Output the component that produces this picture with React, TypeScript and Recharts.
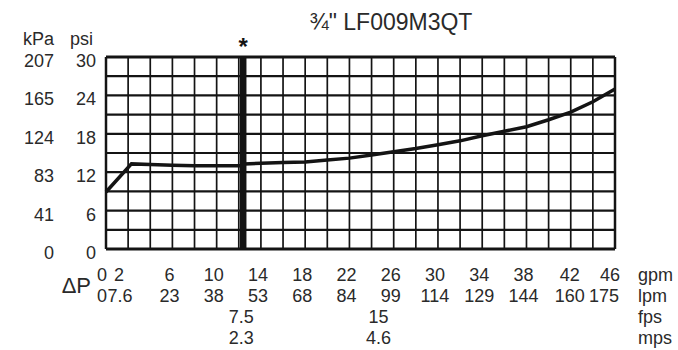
import {
  LineChart,
  Line,
  XAxis,
  YAxis,
  CartesianGrid,
  ReferenceLine,
} from "recharts";

// flow (gpm) vs pressure loss (psi)
const flowGpm = [0, 2.3, 4, 6, 8, 10, 12.4, 12.5, 14, 16, 18, 20, 22, 24, 26, 28, 30, 32, 34, 36, 38, 40, 42, 44, 46];
const pressurePsi = [8.9, 13.3, 13.2, 13.1, 13.0, 13.0, 13.0, 13.3, 13.4, 13.5, 13.6, 13.9, 14.2, 14.7, 15.2, 15.7, 16.3, 16.9, 17.7, 18.4, 19.1, 20.2, 21.4, 23.0, 25.0];

const gpmTicks = [0, 2, 6, 10, 14, 18, 22, 26, 30, 34, 38, 42, 46];
const lpmTicks = ["0", "7.6", "23", "38", "53", "68", "84", "99", "114", "129", "144", "160", "175"];
const psiTicks = [0, 6, 12, 18, 24, 30];
const kpaTicks = ["0", "41", "83", "124", "165", "207"];
const velocityGpm = [12.4, 24.8];
const fpsLabels = ["7.5", "15"];
const mpsLabels = ["2.3", "4.6"];
const unitLabels = ["gpm", "lpm", "fps", "mps"];
const markerGpm = 12.4;
const title = "¾\" LF009M3QT";

const data = flowGpm.map((g, i) => ({ gpm: g, psi: pressurePsi[i] }));
const gridX = Array.from({ length: 24 }, (_, i) => i * 2);
const gridY = Array.from({ length: 11 }, (_, i) => i * 3);

const FONT = "'Liberation Sans', Arial, Helvetica, sans-serif";
const INK = "#2a2a2a";
const LINE = "#141414";
const ROWS = [281, 302, 323, 344];

// small nudges so the squeezed labels sit like the printed chart
function gpmShift(v: number) {
  if (v === 0) return -4;
  if (v === 2) return -9;
  if (v === 42) return -1;
  if (v === 46) return -5;
  return -3;
}

function lpmShift(v: number) {
  if (v === 0) return -4;
  if (v === 2) return -8;
  if (v === 42) return -1;
  if (v === 46) return -11;
  return -3;
}

function XTick(props: any) {
  const { x, payload } = props;
  const i = gpmTicks.indexOf(payload.value);
  if (i < 0) return null;
  return (
    <g fontFamily={FONT} fontSize={18} fill={INK}>
      <text x={x + gpmShift(payload.value)} y={ROWS[0]} textAnchor="middle">{gpmTicks[i]}</text>
      <text x={x + lpmShift(payload.value)} y={ROWS[1]} textAnchor="middle">{lpmTicks[i]}</text>
    </g>
  );
}

function YTick(props: any) {
  const { y, payload } = props;
  const i = psiTicks.indexOf(payload.value);
  if (i < 0) return null;
  return (
    <g fontFamily={FONT} fontSize={18} fill={INK}>
      <text x={54} y={y + 10} textAnchor="end">{kpaTicks[i]}</text>
      <text x={96} y={y + 10} textAnchor="end">{psiTicks[i]}</text>
    </g>
  );
}

function VelocityLabel(props: any) {
  const { viewBox, fps, mps } = props;
  const cx = viewBox.x - 2;
  return (
    <g fontFamily={FONT} fontSize={18} fill={INK}>
      <text x={cx} y={ROWS[2]} textAnchor="middle">{fps}</text>
      <text x={cx} y={ROWS[3]} textAnchor="middle">{mps}</text>
    </g>
  );
}

function StarLabel(props: any) {
  const { viewBox } = props;
  return (
    <text x={viewBox.x} y={viewBox.y - 2} textAnchor="middle" fontFamily={FONT} fontSize={24} fontWeight="bold" fill={LINE}>
      *
    </text>
  );
}

export default function App() {
  return (
    <div style={{ position: "absolute", left: 0, top: 0, width: 678, height: 350, background: "#fff" }}>
      <LineChart
        width={678}
        height={350}
        data={data}
        margin={{ top: 57, right: 63, bottom: 11, left: 6 }}
      >
        <CartesianGrid vertical={false} stroke={LINE} strokeWidth={2.2} />
        <CartesianGrid horizontal={false} stroke={LINE} strokeWidth={1.7} />
        <XAxis
          dataKey="gpm"
          type="number"
          domain={[0, 46]}
          ticks={gridX}
          interval={0}
          height={90}
          axisLine={false}
          tickLine={false}
          tickSize={0}
          tickMargin={0}
          tick={<XTick />}
        />
        <YAxis
          type="number"
          domain={[0, 30]}
          ticks={gridY}
          interval={0}
          width={100}
          axisLine={false}
          tickLine={false}
          tickSize={0}
          tickMargin={0}
          tick={<YTick />}
        />
        <ReferenceLine y={0} stroke={LINE} strokeWidth={3} />
        <ReferenceLine y={30} stroke={LINE} strokeWidth={3} />
        <ReferenceLine x={0} stroke={LINE} strokeWidth={2.5} />
        <ReferenceLine x={46} stroke={LINE} strokeWidth={2.5} />
        {velocityGpm.map((g, i) => (
          <ReferenceLine
            key={g}
            x={g}
            stroke="none"
            label={<VelocityLabel fps={fpsLabels[i]} mps={mpsLabels[i]} />}
          />
        ))}
        <Line
          type="linear"
          dataKey="psi"
          stroke={LINE}
          strokeWidth={3.5}
          dot={false}
          isAnimationActive={false}
        />
        <ReferenceLine x={markerGpm} stroke={LINE} strokeWidth={6.5} label={<StarLabel />} />
      </LineChart>
      <svg
        width={678}
        height={350}
        style={{ position: "absolute", left: 0, top: 0, pointerEvents: "none" }}
        fontFamily={FONT}
        fill={INK}
      >
        <text x={391} y={30} textAnchor="middle" fontSize={23}>{title}</text>
        <text x={23} y={45} fontSize={18}>kPa</text>
        <text x={70} y={45} fontSize={18}>psi</text>
        <text x={91} y={293} textAnchor="end" fontSize={22}>ΔP</text>
        {unitLabels.map((u, i) => (
          <text key={u} x={638} y={ROWS[i]} fontSize={18}>{u}</text>
        ))}
      </svg>
    </div>
  );
}
